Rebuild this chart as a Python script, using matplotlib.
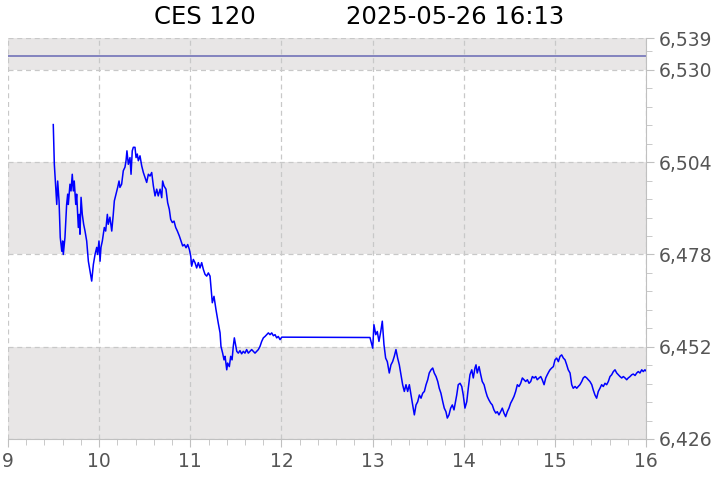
import numpy as np
import matplotlib
matplotlib.use("Agg")
import matplotlib.pyplot as plt
from matplotlib.ticker import FixedLocator, FuncFormatter

# minutes after 09:00 and index level
minutes = [
    29.8, 30.5, 32.1, 32.7, 33.6, 34.4, 35.4, 36.0, 36.4, 37.5, 38.6, 39.3, 39.7,
    40.8, 41.5, 42.3, 43.0, 43.6, 44.6, 45.2, 46.3, 46.9, 47.4, 48.1, 48.9, 49.8,
    50.7, 51.8, 52.9, 54.0, 55.1, 56.2, 57.3, 58.4, 59.0, 59.9, 60.6, 61.2, 62.1,
    63.4, 64.3, 65.4, 66.0, 67.1, 68.3, 69.3, 70.0, 71.1, 72.2, 73.1, 73.7, 74.8,
    75.9, 77.0, 77.7, 78.3, 79.2, 80.3, 81.0, 81.8, 82.5, 83.6, 84.3, 85.1, 85.8,
    86.9, 88.0, 89.1, 90.2, 91.3, 92.4, 93.5, 94.6, 95.7, 96.8, 97.9, 98.9, 100.1,
    101.2, 101.8, 102.7, 104.0, 105.1, 106.2, 107.1, 108.2, 109.3, 110.4, 111.5,
    112.8, 113.9, 115.0, 116.1, 117.2, 118.3, 119.4, 120.3, 120.9, 122.0, 123.1,
    124.2, 125.3, 126.4, 127.5, 128.6, 129.7, 130.8, 131.9, 133.0, 133.6, 134.5,
    135.6, 136.9, 138.4, 139.6, 140.2, 141.3, 142.2, 142.9, 144.0, 144.6, 145.7,
    146.6, 147.5, 148.3, 149.0,
    150.6, 151.6, 152.7, 153.8, 154.9, 156.0, 157.1, 158.2, 159.3, 160.4, 161.5,
    162.6, 163.7, 164.8, 165.9, 167.0, 168.1, 169.2, 170.3, 171.4, 172.5, 173.6,
    174.7, 175.8, 176.9, 177.9, 179.1, 180.2, 238.3,
    240.1, 240.9, 242.1, 243.1, 244.2, 245.4, 246.4, 247.5, 248.6, 249.7, 251.0,
    252.1, 253.2, 254.3, 255.4, 256.5, 257.6, 258.7, 259.8, 260.9, 262.0, 263.1,
    264.2, 265.3, 266.4, 267.5, 268.6, 269.7, 270.8, 271.9, 273.0, 274.1, 275.2,
    276.3, 277.3, 278.5, 279.6, 280.6, 281.8, 282.9, 283.9, 285.0, 286.2, 287.2,
    288.3, 289.2, 290.3, 291.4, 292.5, 293.6,
    295.4, 296.4, 297.6, 298.7, 299.7, 300.8, 302.0, 303.0, 304.1, 305.3, 306.3,
    307.4, 308.1, 308.9, 310.1, 311.2, 312.2, 313.4, 314.5, 315.5, 316.6, 317.8,
    318.8, 319.9, 321.1, 322.1, 323.2, 324.3, 325.4, 326.5, 327.6, 328.7, 329.8,
    330.9, 332.0, 333.1, 334.2, 335.3, 336.4, 337.5, 338.6, 339.7, 340.8, 341.9,
    343.0, 344.1, 345.2, 346.3, 347.4, 348.4, 349.6, 350.7, 351.7, 352.9, 354.0,
    355.0, 356.1,
    356.8, 357.9, 359.0, 360.1, 361.2, 362.3, 363.4, 364.5, 365.6, 366.7, 367.8,
    368.8, 370.0, 371.1, 372.1, 373.3, 374.4, 375.4, 376.5, 377.7, 378.7, 379.8,
    381.0, 382.0, 383.1, 384.3, 385.3, 386.4, 387.5, 388.6, 389.7, 390.8, 391.9,
    393.0, 394.1, 395.2, 396.3, 397.4, 398.5, 399.6, 400.7, 401.8, 402.9, 404.0,
    405.1, 406.2, 407.3, 408.3, 409.5, 410.6, 411.6, 412.8, 413.9, 414.9, 416.0,
    417.2, 418.2, 419.3, 420.0,
]
level = [
    6514.6, 6503.4, 6492.1, 6498.7, 6493.1, 6482.8, 6478.9, 6481.8, 6478.0, 6482.8,
    6492.1, 6495.0, 6492.1, 6497.8, 6495.9, 6500.6, 6495.9, 6498.7, 6492.1, 6495.0,
    6485.6, 6489.3, 6483.7, 6494.1, 6489.3, 6486.5, 6484.6, 6481.8, 6476.1, 6473.3,
    6470.5, 6475.2, 6478.0, 6480.0, 6478.0, 6481.8, 6476.1, 6480.0, 6481.8, 6485.6,
    6484.6, 6489.3, 6486.5, 6488.5, 6484.6, 6489.3, 6493.1, 6495.0, 6496.9, 6498.7,
    6496.9, 6497.8, 6501.6, 6502.6, 6504.4, 6507.2, 6503.4, 6505.3, 6500.6, 6507.2,
    6508.2, 6508.2, 6505.3, 6506.3, 6504.4,
    6505.8, 6503.0, 6501.1, 6499.7, 6498.3, 6500.6, 6500.1, 6501.1, 6497.3, 6494.5,
    6496.4, 6494.5, 6496.4, 6494.0, 6498.7, 6497.3, 6496.4, 6492.6, 6490.7, 6487.9,
    6487.0, 6487.4, 6485.6, 6484.6, 6483.2, 6481.8, 6480.4, 6480.8, 6479.9, 6480.8,
    6479.4, 6477.5, 6474.7, 6476.6, 6475.7, 6474.2, 6475.7, 6474.2, 6475.7, 6473.8,
    6472.4, 6471.9, 6472.8, 6471.9, 6469.0, 6464.4, 6466.2, 6462.5, 6458.7, 6455.9,
    6452.1, 6450.2, 6448.3, 6449.3, 6445.5, 6447.4, 6446.4, 6449.3, 6448.3, 6452.1,
    6454.5,
    6450.7, 6450.2, 6450.9, 6450.0, 6450.7, 6450.2, 6451.2, 6450.2, 6450.7, 6451.2,
    6450.7, 6450.2, 6450.7, 6451.2, 6452.1, 6453.5, 6454.5, 6454.9, 6455.4, 6455.9,
    6455.4, 6455.9, 6455.1, 6455.4, 6454.5, 6454.9, 6454.0, 6454.7, 6454.6,
    6451.6, 6458.2, 6455.4, 6456.3, 6453.5, 6456.3, 6459.2, 6452.6, 6448.8, 6447.8,
    6444.6, 6446.9, 6447.8, 6449.3, 6451.2, 6448.8, 6446.9, 6444.1, 6441.3, 6439.4,
    6441.3, 6439.4, 6441.3, 6438.4, 6435.6, 6432.8, 6435.6, 6436.5, 6438.4, 6437.5,
    6438.9, 6439.4, 6441.3, 6442.7, 6444.6, 6445.5, 6446.0, 6444.6, 6443.6, 6442.2,
    6440.3, 6438.9, 6436.5, 6434.7, 6433.7, 6431.9, 6432.8, 6434.7, 6435.6, 6434.2,
    6438.4, 6441.3, 6441.7, 6440.8, 6438.4, 6434.7, 6436.5, 6440.3, 6444.1, 6445.5,
    6443.2, 6446.0, 6446.9, 6444.6, 6446.4, 6444.1, 6442.2, 6441.3, 6439.4, 6438.0,
    6437.0, 6436.1, 6435.6, 6434.2, 6433.3, 6433.7, 6432.8, 6433.7, 6434.7, 6433.3,
    6432.3, 6433.7, 6434.7, 6436.1, 6437.0, 6438.0, 6439.4, 6441.3, 6440.8, 6441.7,
    6443.2, 6442.7, 6442.2, 6442.7, 6441.7, 6442.2, 6443.6, 6443.2, 6443.6, 6442.7,
    6443.2, 6443.6, 6442.7, 6441.3, 6443.2, 6444.1, 6445.0,
    6445.5, 6446.0, 6446.4, 6448.3, 6448.8, 6447.8, 6449.3, 6449.7, 6448.8, 6448.3,
    6446.9, 6445.5, 6444.6, 6441.3, 6440.3, 6440.8, 6440.3, 6440.8, 6441.3, 6442.2,
    6443.2, 6443.6, 6443.2, 6442.7, 6442.2, 6441.3, 6439.8, 6438.4, 6437.5, 6439.4,
    6440.3, 6441.3, 6440.8, 6441.7, 6441.3, 6442.2, 6443.6, 6444.1, 6445.0, 6445.5,
    6444.6, 6444.1, 6443.6, 6443.2, 6443.6, 6443.2, 6442.7, 6443.2, 6443.6, 6444.1,
    6444.3, 6443.9, 6444.6, 6445.0, 6444.6, 6445.5, 6445.0, 6445.5, 6445.2,
]
prev_close = 6534.0

y_ticks = [6426, 6452, 6478, 6504, 6530, 6539]
bands = [(6426, 6452), (6478, 6504), (6530, 6539)]
x_ticks = [9, 10, 11, 12, 13, 14, 15, 16]

hours = 9 + np.array(minutes) / 60.0

fig = plt.figure(figsize=(7.2, 4.8), dpi=100)
ax = fig.add_axes([8 / 720, 1 - 439 / 480, 638 / 720, 401 / 480])

for lo, hi in bands:
    ax.axhspan(lo, hi, color="#e8e6e6", lw=0, zorder=0)

ax.axhline(prev_close, color="#7b7bbb", lw=1.3, zorder=2)
ax.plot(hours, level, color="#0000ff", lw=1.1, zorder=3)

ax.set_xlim(9, 16)
ax.set_ylim(6426, 6539)

ax.set_xticks(x_ticks)
ax.xaxis.set_minor_locator(FixedLocator(np.arange(9, 16.01, 0.2)))
ax.yaxis.tick_right()
ax.set_yticks(y_ticks)
ax.yaxis.set_minor_locator(FixedLocator(np.arange(6426, 6539, 5.2)))
ax.yaxis.set_major_formatter(FuncFormatter(lambda v, p: f"{v:,.0f}"))

ax.grid(True, which="major", ls=(0, (4, 3)), color="#c8c8c8", lw=0.9)
ax.set_axisbelow(True)

for s in ["left", "top"]:
    ax.spines[s].set_visible(False)
for s in ["right", "bottom"]:
    ax.spines[s].set_color("#c0c0c0")

ax.tick_params(which="both", colors="#c0c0c0", labelcolor="#555555",
               labelsize=13.5)
ax.tick_params(which="major", length=6)
ax.tick_params(which="minor", length=4)
ax.tick_params(axis="y", pad=3)

fig.text(205 / 720, 1 - 17 / 480, "CES 120", ha="center", va="center",
         fontsize=17.5)
fig.text(455 / 720, 1 - 17 / 480, "2025-05-26 16:13", ha="center",
         va="center", fontsize=17.5)

fig.savefig("out.png", dpi=100)
